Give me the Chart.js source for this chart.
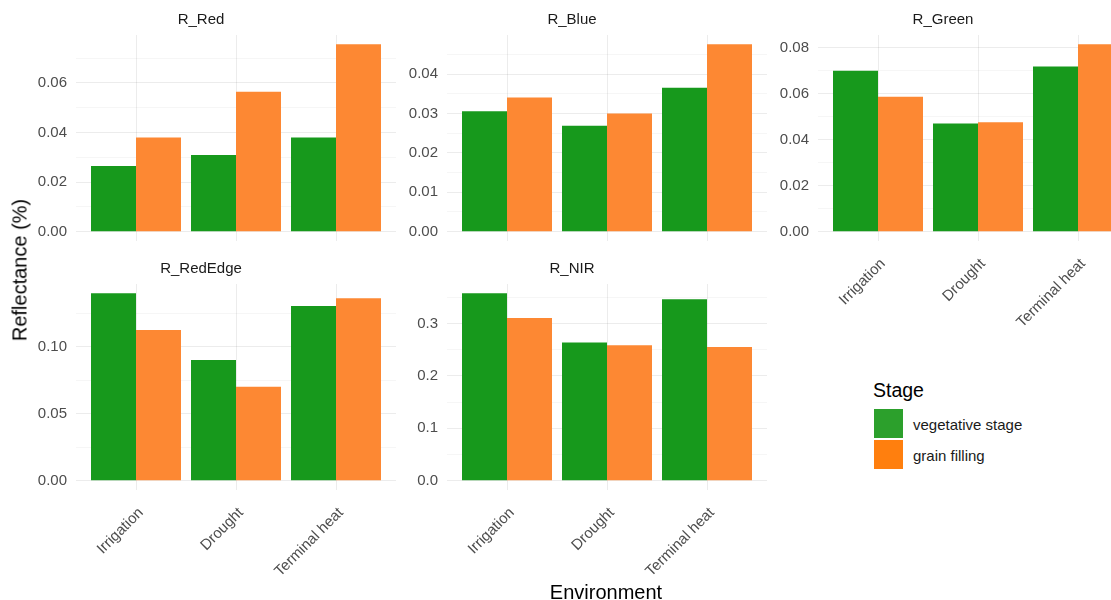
<!DOCTYPE html>
<html>
<head>
<meta charset="utf-8">
<script src="https://cdn.jsdelivr.net/npm/chart.js"></script>
<style>
  body { margin: 0; width: 1111px; height: 600px; overflow: hidden; background: #fff; position: relative;
         font-family: "Liberation Sans", Arial, sans-serif; }
  canvas { position: absolute; }
  .txt { position: absolute; white-space: nowrap; color: #000; }
  .key { position: absolute; width: 29px; height: 29px; }
</style>
</head>
<body>
<canvas id="pRed" width="390" height="341" style="left:6px;top:0px"></canvas>
<canvas id="pBlue" width="390" height="341" style="left:377px;top:0px"></canvas>
<canvas id="pGreen" width="390" height="341" style="left:748px;top:0px"></canvas>
<canvas id="pRedEdge" width="390" height="341" style="left:6px;top:249px"></canvas>
<canvas id="pNir" width="390" height="341" style="left:377px;top:249px"></canvas>

<div class="txt" style="left:20px;top:270px;font-size:20px;transform:translate(-50%,-50%) rotate(-90deg)">Reflectance (%)</div>
<div class="txt" style="left:606px;top:592px;font-size:20px;transform:translate(-50%,-50%)">Environment</div>

<div class="txt" style="left:873px;top:379px;font-size:19.5px">Stage</div>
<div class="key" style="left:874px;top:409px;background:#2ca02c"></div>
<div class="key" style="left:874px;top:440px;background:#ff7f0e"></div>
<div class="txt" id="lab0" style="left:913px;top:416px;font-size:15px;color:#1a1a1a"></div>
<div class="txt" id="lab1" style="left:913px;top:447px;font-size:15px;color:#1a1a1a"></div>

<script>
// categories and series
var environments = ['Irrigation', 'Drought', 'Terminal heat'];
var stages = ['vegetative stage', 'grain filling'];

var redVeg = [0.0265, 0.0309, 0.0380];
var redGrain = [0.0380, 0.0564, 0.0755];
var blueVeg = [0.0306, 0.0269, 0.0366];
var blueGrain = [0.0341, 0.0300, 0.0476];
var greenVeg = [0.0700, 0.0471, 0.0719];
var greenGrain = [0.0587, 0.0476, 0.0815];
var redEdgeVeg = [0.1398, 0.0901, 0.1304];
var redEdgeGrain = [0.1125, 0.0701, 0.1361];
var nirVeg = [0.3574, 0.2634, 0.3460];
var nirGrain = [0.3105, 0.2582, 0.2551];

// y ticks (major with labels, minor only as grid)
var redTicks = [0, 0.02, 0.04, 0.06];
var redTickLabels = ['0.00', '0.02', '0.04', '0.06'];
var redMinor = [0.01, 0.03, 0.05, 0.07];
var blueTicks = [0, 0.01, 0.02, 0.03, 0.04];
var blueTickLabels = ['0.00', '0.01', '0.02', '0.03', '0.04'];
var blueMinor = [0.005, 0.015, 0.025, 0.035, 0.045];
var greenTicks = [0, 0.02, 0.04, 0.06, 0.08];
var greenTickLabels = ['0.00', '0.02', '0.04', '0.06', '0.08'];
var greenMinor = [0.01, 0.03, 0.05, 0.07];
var redEdgeTicks = [0, 0.05, 0.10];
var redEdgeTickLabels = ['0.00', '0.05', '0.10'];
var redEdgeMinor = [0.025, 0.075, 0.125];
var nirTicks = [0, 0.1, 0.2, 0.3];
var nirTickLabels = ['0.0', '0.1', '0.2', '0.3'];
var nirMinor = [0.05, 0.15, 0.25, 0.35];

var vegColor = '#17991c';
var grainColor = '#fd8833';
var majorGrid = 'rgba(0,0,0,0.075)';
var minorGrid = 'rgba(0,0,0,0.035)';
var tickFont = { family: '"Liberation Sans", Arial, sans-serif', size: 15 };

document.getElementById('lab0').textContent = stages[0];
document.getElementById('lab1').textContent = stages[1];

function makePanel(id, title, veg, grain, ticks, tickLabels, minor, showX) {
  var top = Math.max.apply(null, veg.concat(grain));
  new Chart(document.getElementById(id), {
    type: 'bar',
    data: {
      datasets: [
        { label: stages[0], data: veg.map(function (v, i) { return { x: i, y: v }; }),
          backgroundColor: vegColor, borderWidth: 0 },
        { label: stages[1], data: grain.map(function (v, i) { return { x: i, y: v }; }),
          backgroundColor: grainColor, borderWidth: 0 }
      ]
    },
    options: {
      responsive: false,
      animation: false,
      layout: { padding: 0 },
      datasets: { bar: { categoryPercentage: 0.9, barPercentage: 1.0 } },
      plugins: {
        legend: { display: false },
        tooltip: { enabled: false },
        title: {
          display: true, text: title, color: '#1a1a1a',
          font: { family: tickFont.family, size: 15, weight: 'normal', lineHeight: 1.2 },
          padding: { top: 11, bottom: 6 }
        }
      },
      scales: {
        x: {
          type: 'linear', min: -0.6, max: 2.6, offset: false,
          afterBuildTicks: function (s) { s.ticks = environments.map(function (e, i) { return { value: i }; }); },
          afterFit: function (s) { s.height = 100; s.paddingLeft = 0; s.paddingRight = 0; },
          ticks: {
            display: showX, autoSkip: false, minRotation: 45, maxRotation: 45,
            padding: 14, labelOffset: 5, color: '#4d4d4d', font: tickFont,
            callback: function (v) { return environments[v]; }
          },
          grid: { color: majorGrid, drawTicks: false, offset: false },
          border: { display: false }
        },
        y: {
          min: -0.05 * top, max: 1.05 * top,
          afterBuildTicks: function (s) {
            s.ticks = ticks.concat(minor).sort(function (a, b) { return a - b; })
              .map(function (v) { return { value: v }; });
          },
          afterFit: function (s) { s.width = 70; s.paddingTop = 0; s.paddingBottom = 0; },
          ticks: {
            autoSkip: false, padding: 9, color: '#4d4d4d', font: tickFont,
            callback: function (v) { var i = ticks.indexOf(v); return i >= 0 ? tickLabels[i] : ''; }
          },
          grid: {
            drawTicks: false,
            color: function (c) { return ticks.indexOf(c.tick.value) >= 0 ? majorGrid : minorGrid; }
          },
          border: { display: false }
        }
      }
    }
  });
}

makePanel('pRed', 'R_Red', redVeg, redGrain, redTicks, redTickLabels, redMinor, false);
makePanel('pBlue', 'R_Blue', blueVeg, blueGrain, blueTicks, blueTickLabels, blueMinor, false);
makePanel('pGreen', 'R_Green', greenVeg, greenGrain, greenTicks, greenTickLabels, greenMinor, true);
makePanel('pRedEdge', 'R_RedEdge', redEdgeVeg, redEdgeGrain, redEdgeTicks, redEdgeTickLabels, redEdgeMinor, true);
makePanel('pNir', 'R_NIR', nirVeg, nirGrain, nirTicks, nirTickLabels, nirMinor, true);
</script>
</body>
</html>
